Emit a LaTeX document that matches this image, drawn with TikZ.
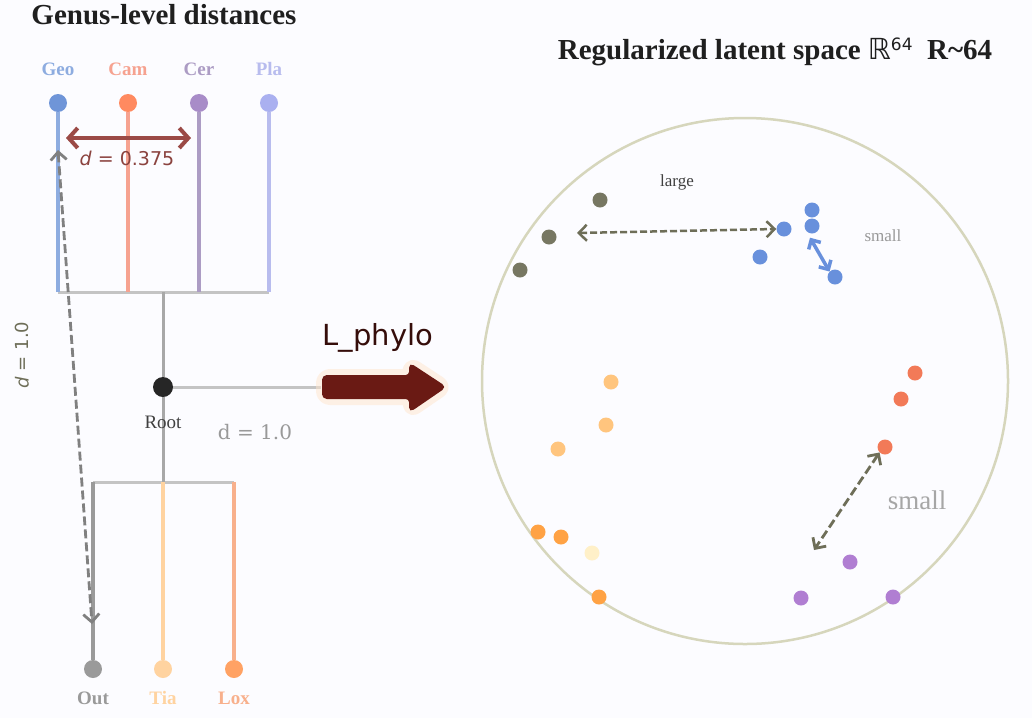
\documentclass[tikz,border=0pt]{standalone}
\usepackage{fontspec}
\setmainfont{Liberation Serif}
\newfontfamily\dejasans{DejaVu Sans}
\newfontfamily\dejaserif{DejaVu Serif}
\usetikzlibrary{arrows.meta}
\definecolor{bgC}{HTML}{FCFCFF}
\definecolor{geoC}{HTML}{6F95D8}
\definecolor{geoL}{HTML}{8DACE0}
\definecolor{camC}{HTML}{FF8A60}
\definecolor{camL}{HTML}{F6A290}
\definecolor{cerC}{HTML}{A88CC8}
\definecolor{cerL}{HTML}{AC9CC4}
\definecolor{plaC}{HTML}{AAB0F0}
\definecolor{plaL}{HTML}{B8BCEE}
\definecolor{outC}{HTML}{9A9A9A}
\definecolor{tiaC}{HTML}{FFD3A0}
\definecolor{loxC}{HTML}{FFA264}
\definecolor{loxL}{HTML}{F8B08C}
\definecolor{olC}{HTML}{777762}
\definecolor{blC}{HTML}{6890DC}
\definecolor{orT}{HTML}{FFC57E}
\definecolor{orB}{HTML}{FFA244}
\definecolor{orP}{HTML}{FFF0C8}
\definecolor{rdC}{HTML}{F27A58}
\definecolor{puC}{HTML}{B07ED2}
\definecolor{ringC}{HTML}{D6D6BC}
\definecolor{dashC}{HTML}{6E6E58}
\definecolor{maroon}{HTML}{6A1A14}
\definecolor{dredC}{HTML}{9B4A46}
\definecolor{conn}{HTML}{C4C4C4}
\definecolor{rootL}{HTML}{A8A8A8}
\begin{document}
\begin{tikzpicture}[x=1pt,y=-1pt,
  tdot/.style={circle,inner sep=0pt,minimum size=18pt,fill=#1},
  ldot/.style={circle,inner sep=0pt,minimum size=15pt,fill=#1},
  tlab/.style={font=\fontsize{19}{19}\selectfont\bfseries,text=#1},
  branch/.style={line width=4pt,draw=#1},
  hconn/.style={line width=3pt,draw=conn},
  dasharrow/.style={dashed,dash pattern=on 9pt off 4pt,line width=2.8pt,draw=dashC,{Straight Barb[length=8pt,width=16pt]}-{Straight Barb[length=8pt,width=16pt]}},
  title/.style={font=\fontsize{29}{29}\selectfont\bfseries,text=black!88}]
\useasboundingbox (0,0) rectangle (1032,718);
\fill[bgC] (0,0) rectangle (1032,718);
% titles
\node[title] (t1) at (164,15) {Genus-level distances};
\node[title] (t2) at (775,52) {Regularized latent space {\dejasans\mdseries\itshape\char"211D}{\dejasans\mdseries\raisebox{9pt}{\fontsize{17}{17}\selectfont 64}}\ \ R\char"007E 64};
% tree top
\node[tlab=geoL] (lgeo) at (58,69) {Geo};
\node[tlab=camL] (lcam) at (128,69) {Cam};
\node[tlab=cerL] (lcer) at (199,69) {Cer};
\node[tlab=plaL] (lpla) at (269,69) {Pla};
\coordinate (jgeo) at (58,292);
\coordinate (jcam) at (128,292);
\coordinate (jcer) at (199,292);
\coordinate (jpla) at (269,292);
\coordinate (jtop) at (163,292);
\coordinate (jbot) at (163,482);
\coordinate (jout) at (93,482);
\coordinate (jtia) at (163,482);
\coordinate (jlox) at (234,482);
\draw[hconn] (jgeo) -- (jpla);
\draw[hconn] (jout) -- (jlox);
\node[tdot=geoC] (geo) at (58,103) {};
\node[tdot=camC] (cam) at (128,103) {};
\node[tdot=cerC] (cer) at (199,103) {};
\node[tdot=plaC] (pla) at (269,103) {};
\draw[branch=geoL] (geo) -- (jgeo);
\draw[branch=camL] (cam) -- (jcam);
\draw[branch=cerL] (cer) -- (jcer);
\draw[branch=plaL] (pla) -- (jpla);
% root
\node[tdot=black!85,minimum size=20pt] (root) at (163,387) {};
\draw[line width=3pt,draw=rootL] (jtop) -- (root) -- (jbot);
\node[font=\fontsize{19}{19}\selectfont,text=black!75] (lroot) at (163,422) {Root};
\node[font=\dejaserif\fontsize{20}{20}\selectfont,text=black!40] (d1) at (255,432) {d = 1.0};
% bottom tree
\node[tdot=outC] (out) at (93,669) {};
\node[tdot=tiaC] (tia) at (163,669) {};
\node[tdot=loxC] (lox) at (234,669) {};
\draw[branch=outC] (out) -- (jout);
\draw[branch=tiaC] (tia) -- (jtia);
\draw[branch=loxL] (lox) -- (jlox);
\node[tlab=outC] (lout) at (93,698) {Out};
\node[tlab=tiaC] (ltia) at (163,698) {Tia};
\node[tlab=loxL] (llox) at (234,698) {Lox};
% d = 0.375
\coordinate (a1) at (66,138);
\coordinate (a2) at (191,138);
\draw[line width=4pt,draw=dredC,{Straight Barb[length=9pt,width=20pt]}-{Straight Barb[length=9pt,width=20pt]}] (a1) -- (a2);
\node[font=\dejasans\fontsize{19}{19}\selectfont,text=dredC!90!black] (d375) at (127,158) {\textit{d} = 0.375};
% d = 1.0 dashed between Geo and Out
\coordinate (g1) at (58,150);
\coordinate (g2) at (92,624);
\draw[dashed,dash pattern=on 9pt off 4pt,line width=2.8pt,draw=black!50,{Straight Barb[length=8pt,width=16pt]}-{Straight Barb[length=8pt,width=16pt]}] (g1) -- (g2);
\node[font=\dejasans\fontsize{18}{18}\selectfont,text=dashC,rotate=90] (dv) at (22,355) {\textit{d} = 1.0};
% big arrow
\coordinate (arrS) at (321,387);
\draw[line width=3pt,draw=conn] (root) -- (arrS);
\path[fill=yellow!25,opacity=0.5,draw=orange!20,line width=14pt,line join=round,rounded corners=7pt]
  (323,376) -- (410,376) -- (410,364) -- (445,387) -- (410,411) -- (410,398) -- (323,398) -- cycle;
\path[fill=maroon,draw=maroon,line width=2pt,rounded corners=4pt]
  (323,376) -- (410,376) -- (410,364) -- (445,387) -- (410,411) -- (410,398) -- (323,398) -- cycle;
\node[font=\dejasans\fontsize{29}{29}\selectfont,text=maroon!50!black] (lphy) at (378,338) {L\_phylo};
% latent space
\node[circle,draw=ringC,line width=2.5pt,minimum size=526pt,inner sep=0pt] (ring) at (745,381) {};
\node[ldot=olC] (o1) at (600,200) {};
\node[ldot=olC] (o2) at (549,237) {};
\node[ldot=olC] (o3) at (520,270) {};
\node[ldot=blC] (b1) at (812,210) {};
\node[ldot=blC] (b2) at (812,226) {};
\node[ldot=blC] (b3) at (784,229) {};
\node[ldot=blC] (b4) at (760,257) {};
\node[ldot=blC] (b5) at (835,277) {};
\node[font=\fontsize{17}{17}\selectfont,text=black!75] (large) at (677,182) {large};
\node[font=\fontsize{17}{17}\selectfont,text=black!40] (small1) at (883,236) {small};
\draw[dasharrow,dash pattern=on 7pt off 3pt,line width=2.5pt] (o2) ++(28,-4) coordinate (la1) (la1) -- (b3.west);
\draw[line width=3.5pt,draw=blC,{Straight Barb[length=7pt,width=14pt]}-{Straight Barb[length=7pt,width=14pt]}] (b2.south) ++(-2,4) coordinate (sb1) (sb1) -- (b5.north west);
\node[ldot=orT] (y1) at (611,382) {};
\node[ldot=orT] (y2) at (606,425) {};
\node[ldot=orT] (y3) at (558,449) {};
\node[ldot=orB] (y4) at (538,532) {};
\node[ldot=orB] (y5) at (561,537) {};
\node[ldot=orP] (y6) at (592,553) {};
\node[ldot=orB] (y7) at (599,597) {};
\node[ldot=rdC] (r1) at (915,373) {};
\node[ldot=rdC] (r2) at (901,399) {};
\node[ldot=rdC] (r3) at (885,447) {};
\node[ldot=puC] (p1) at (850,562) {};
\node[ldot=puC] (p2) at (801,598) {};
\node[ldot=puC] (p3) at (893,597) {};
\node[font=\fontsize{27}{27}\selectfont,text=black!35] (small2) at (917,500) {small};
\coordinate (sa2) at (814,550);
\draw[dasharrow] (r3.south west) -- (sa2);
\end{tikzpicture}
\end{document}
